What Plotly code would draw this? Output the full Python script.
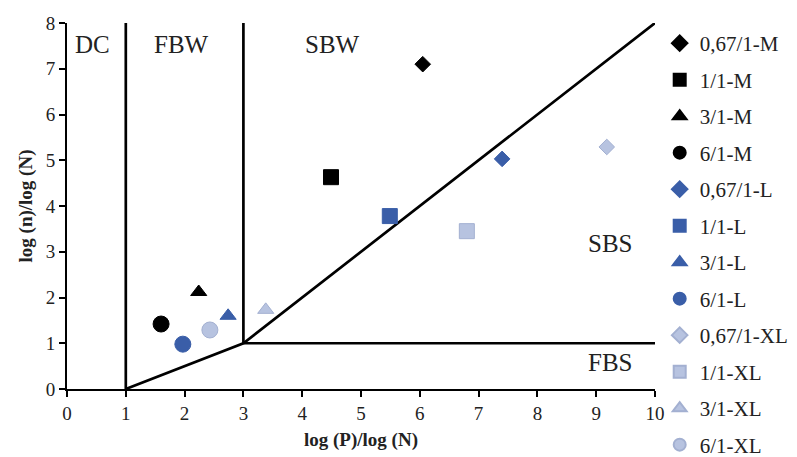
import plotly.graph_objects as go

series_names = ["0,67/1-M", "1/1-M", "3/1-M", "6/1-M",
                "0,67/1-L", "1/1-L", "3/1-L", "6/1-L",
                "0,67/1-XL", "1/1-XL", "3/1-XL", "6/1-XL"]
x_vals = [6.05, 4.49, 2.24, 1.60, 7.40, 5.49, 2.74, 1.97, 9.18, 6.80, 3.38, 2.43]
y_vals = [7.10, 4.63, 2.12, 1.42, 5.03, 3.78, 1.60, 0.98, 5.29, 3.45, 1.73, 1.29]
symbols = ["diamond", "square", "triangle-up", "circle"] * 3
sizes = [12, 15, 14, 16] * 3
colors = ["#000000"] * 4 + ["#3A5EA8"] * 4 + ["#B7C3E0"] * 4
outline = ["#000000"] * 4 + ["#3A5EA8"] * 4 + ["#A3B0D1"] * 4

# boundary lines of the map
bound_x = [1, 1, None, 3, 3, None, 1, 3, 10, None, 3, 10]
bound_y = [0, 8, None, 8, 1, None, 0, 1, 8, None, 1, 1]

region_labels = ["DC", "FBW", "SBW", "SBS", "FBS"]
region_x = [0.44, 1.94, 4.52, 9.23, 9.23]
region_y = [7.52, 7.52, 7.52, 3.19, 0.57]

serif = "Liberation Serif"

fig = go.Figure()
fig.add_trace(go.Scatter(x=bound_x, y=bound_y, mode="lines",
                         line=dict(color="black", width=2.7),
                         showlegend=False, hoverinfo="skip"))
for i, name in enumerate(series_names):
    fig.add_trace(go.Scatter(
        x=[x_vals[i]], y=[y_vals[i]], mode="markers", name=name,
        legendgroup=name,
        marker=dict(symbol=symbols[i], size=sizes[i], color=colors[i],
                    line=dict(color=outline[i], width=1))))

for lab, lx, ly in zip(region_labels, region_x, region_y):
    fig.add_annotation(x=lx, y=ly, text=lab, showarrow=False,
                       font=dict(family=serif, size=25, color="#222"))

# the page body adds an 8px offset, so the figure is sized to fit the window
fig.update_layout(
    width=789, height=449,
    margin=dict(l=59, r=142, t=15, b=68, autoexpand=False),
    paper_bgcolor="white", plot_bgcolor="white",
    font=dict(family=serif, size=19, color="#222"),
    legend=dict(x=1.008, y=1.0, xanchor="left", yanchor="top",
                bgcolor="rgba(0,0,0,0)",
                font=dict(size=21, family=serif),
                tracegroupgap=6.2, itemsizing="constant", maxheight=520),
    xaxis=dict(range=[0, 10], dtick=1, showgrid=False, zeroline=False,
               automargin=False,
               showline=True, linecolor="black", linewidth=2,
               ticks="outside", ticklen=6, tickcolor="black", tickwidth=1.5,
               tickfont=dict(size=19, family=serif),
               title=dict(text="<b>log (P)/log (N)</b>", standoff=10,
                          font=dict(size=19, family=serif))),
    yaxis=dict(range=[0, 8], dtick=1, showgrid=False, zeroline=False,
               automargin=False,
               showline=True, linecolor="black", linewidth=2,
               ticks="outside", ticklen=6, tickcolor="black", tickwidth=1.5,
               tickfont=dict(size=19, family=serif),
               title=dict(text="<b>log (n)/log (N)</b>", standoff=8,
                          font=dict(size=19, family=serif))),
)
fig.write_html("out.html")
